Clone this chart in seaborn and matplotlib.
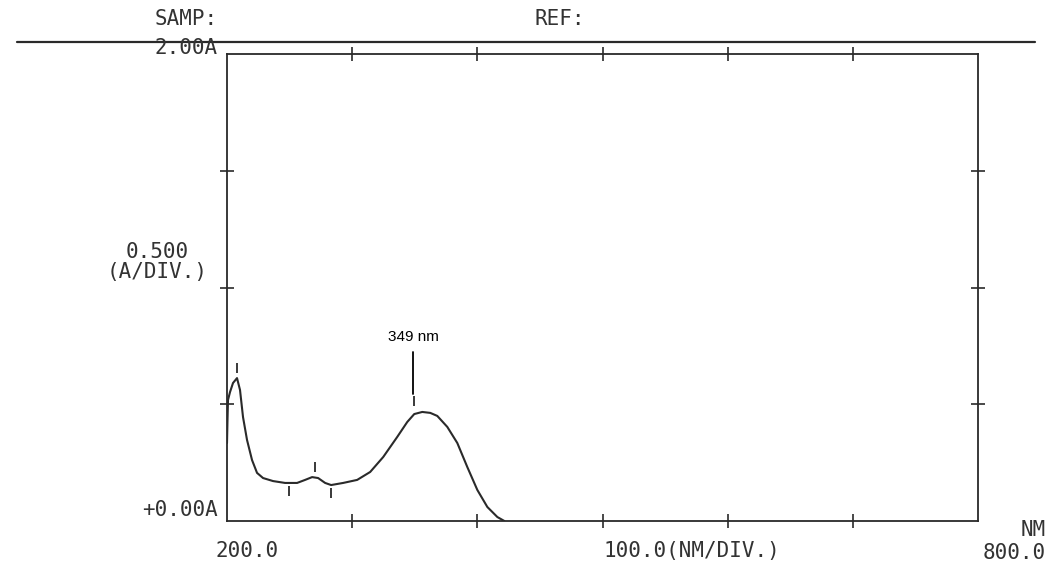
import pandas as pd
import seaborn as sns
import matplotlib.pyplot as plt
from matplotlib.lines import Line2D


# spectrum
WAVELENGTH = [200.0, 200.4, 200.8, 202.4, 204.8, 208.0, 210.4, 212.8, 216.0,
              220.0, 224.0, 228.8, 236.8, 246.4, 256.0, 262.4, 268.0, 272.8,
              278.4, 283.2, 292.8, 304.0, 314.4, 324.8, 336.0, 344.0, 349.6,
              356.0, 362.4, 368.0, 376.0, 384.0, 392.0, 400.0, 408.0, 416.0,
              421.6]
ABSORBANCE = [0.334, 0.433, 0.518, 0.552, 0.591, 0.612, 0.561, 0.445, 0.347,
              0.261, 0.206, 0.184, 0.171, 0.163, 0.163, 0.176, 0.188, 0.184,
              0.163, 0.154, 0.163, 0.176, 0.210, 0.274, 0.360, 0.424, 0.458,
              0.467, 0.463, 0.450, 0.403, 0.334, 0.231, 0.133, 0.060, 0.017,
              0.0]

# peak / valley pick marks printed by the instrument
PICK_NM = [208.0, 249.6, 270.4, 283.2, 349.6]
PICK_A = [0.655, 0.128, 0.231, 0.120, 0.514]

PEAK_NM = 349
PEAK_LINE = [0.544, 0.724]
PEAK_LABEL_A = 0.788

X_TICKS = [300, 400, 500, 600, 700]
Y_TICKS = [0.5, 1.0, 1.5]

W, H = 1055, 570
MONO = 'DejaVu Sans Mono'
INK = '#2a2a2a'


def px(x, y):
    # pixel position -> figure fraction
    return x / W, 1 - y / H


def plt_spectrum(df: pd.DataFrame, picks: pd.DataFrame) -> None:
    sns.set_style('white')
    fig = plt.figure(figsize=(W / 100, H / 100), dpi=100)
    ax = fig.add_axes([227 / W, 1 - 521 / H, 751 / W, 467 / H])

    sns.lineplot(data=df, x='nm', y='A', ax=ax, color=INK, lw=1.5,
                 estimator=None, sort=False)
    sns.scatterplot(data=picks, x='nm', y='A', ax=ax, marker='|', s=60,
                    color=INK, linewidth=1.3)

    ax.plot([PEAK_NM, PEAK_NM], PEAK_LINE, color='black', lw=1.3)
    ax.text(PEAK_NM, PEAK_LABEL_A, f'{PEAK_NM} nm', ha='center', va='center',
            fontsize=11, family='Liberation Sans', color='black')

    ax.set_xlim(200, 800)
    ax.set_ylim(0, 2)
    ax.set_xticks(X_TICKS)
    ax.set_yticks(Y_TICKS)
    ax.tick_params(direction='inout', length=10, width=1.2, color=INK,
                   top=True, right=True, bottom=True, left=True,
                   labelbottom=False, labelleft=False)
    ax.set_xlabel('')
    ax.set_ylabel('')
    for s in ax.spines.values():
        s.set_color(INK)
        s.set_linewidth(1.3)

    fig.add_artist(Line2D([17 / W, 1035 / W], [1 - 42 / H] * 2,
                          color=INK, lw=1.6))

    kw = dict(family=MONO, fontsize=15, color='#333333', va='center')
    fig.text(*px(186, 19), 'SAMP:', ha='center', **kw)
    fig.text(*px(560, 19), 'REF:', ha='center', **kw)
    fig.text(*px(218, 48), '2.00A', ha='right', **kw)
    fig.text(*px(208, 262), '0.500\n(A/DIV.)', ha='right', linespacing=0.95,
             multialignment='center', **kw)
    fig.text(*px(218, 510), '+0.00A', ha='right', **kw)
    fig.text(*px(247, 551), '200.0', ha='center', **kw)
    fig.text(*px(692, 551), '100.0(NM/DIV.)', ha='center', **kw)
    fig.text(*px(1046, 553), '800.0', ha='right', **kw)
    fig.text(*px(1046, 530), 'NM', ha='right', **kw)

    fig.savefig('out.png', dpi=100)


spectrum = pd.DataFrame({'nm': WAVELENGTH, 'A': ABSORBANCE})
marks = pd.DataFrame({'nm': PICK_NM, 'A': PICK_A})
plt_spectrum(spectrum, marks)
